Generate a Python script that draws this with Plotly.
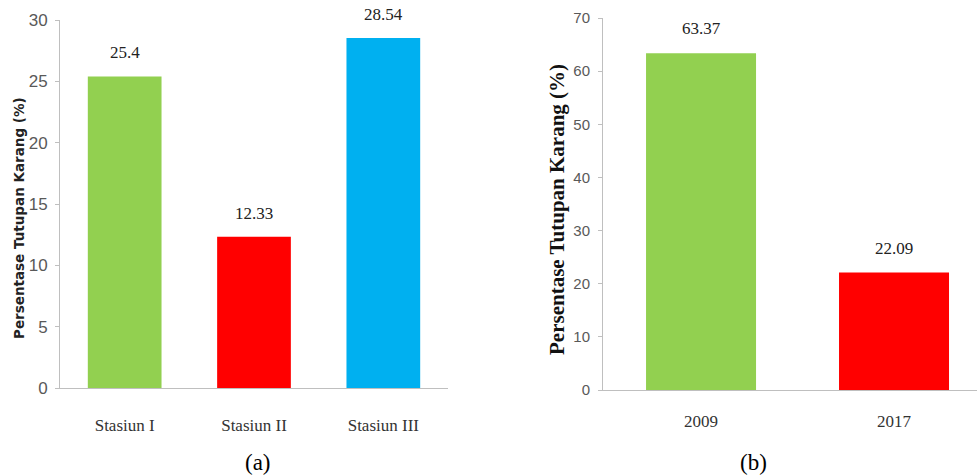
import plotly.graph_objects as go

# Data
stations = ["Stasiun I", "Stasiun II", "Stasiun III"]
cover_a = [25.4, 12.33, 28.54]
label_a = ["25.4", "12.33", "28.54"]
colors_a = ["#92d050", "#ff0000", "#00b0f0"]

years = ["2009", "2017"]
cover_b = [63.37, 22.09]
label_b = ["63.37", "22.09"]
colors_b = ["#92d050", "#ff0000"]

ytitle = "Persentase Tutupan Karang (%)"

W, H = 977, 476
fig = go.Figure()

fig.add_trace(go.Bar(x=stations, y=cover_a, marker=dict(color=colors_a, line=dict(width=0)),
                     width=0.57, xaxis="x", yaxis="y", showlegend=False))
fig.add_trace(go.Bar(x=years, y=cover_b, marker=dict(color=colors_b, line=dict(width=0)),
                     width=0.57, xaxis="x2", yaxis="y2", showlegend=False))

serif = "Liberation Serif"
tickfont = dict(family="Liberation Sans Narrow, Arial Narrow, sans-serif", size=17, color="#595959")
tickfont2 = dict(family="Liberation Sans Narrow, Arial Narrow, sans-serif", size=15, color="#595959")
axcol = "#bfbfbf"

ann = []
for i, (v, t) in enumerate(zip(cover_a, label_a)):
    ann.append(dict(x=i, y=v, xref="x", yref="y", text=t, showarrow=False, yanchor="bottom",
                    yshift=12, font=dict(family=serif, size=17, color="#222")))
for i, (v, t) in enumerate(zip(cover_b, label_b)):
    ann.append(dict(x=i, y=v, xref="x2", yref="y2", text=t, showarrow=False, yanchor="bottom",
                    yshift=13, font=dict(family=serif, size=17, color="#222")))

ann.append(dict(x=19 / W, y=1 - 218 / H, xref="paper", yref="paper", text=ytitle, textangle=-90,
                showarrow=False, xanchor="center", yanchor="middle",
                font=dict(family="DejaVu Sans", size=13.5, color="#222", weight="bold")))
ann.append(dict(x=557 / W, y=1 - 210 / H, xref="paper", yref="paper", text="<b>" + ytitle + "</b>",
                textangle=-90, showarrow=False, xanchor="center", yanchor="middle",
                font=dict(family=serif, size=21, color="#111")))
ann.append(dict(x=258 / W, y=1 - 462 / H, xref="paper", yref="paper", text="(a)", showarrow=False,
                xanchor="center", yanchor="middle", font=dict(family=serif, size=23, color="#000")))
ann.append(dict(x=753 / W, y=1 - 462 / H, xref="paper", yref="paper", text="(b)", showarrow=False,
                xanchor="center", yanchor="middle", font=dict(family=serif, size=23, color="#000")))

fig.update_layout(
    width=W, height=H, margin=dict(l=0, r=0, t=0, b=0, autoexpand=False),
    paper_bgcolor="white", plot_bgcolor="white",
    annotations=ann,
    xaxis=dict(type="category", domain=[60 / W, 448 / W], range=[-0.5, 2.5], showline=True,
               linecolor=axcol, linewidth=1, ticks="", showgrid=False, anchor="y", automargin=False,
               tickfont=dict(family=serif, size=17, color="#333"), ticklabelstandoff=22),
    yaxis=dict(domain=[1 - 388 / H, 1 - 20 / H], range=[0, 30], dtick=5, showline=True,
               linecolor=axcol, linewidth=1, ticks="outside", ticklen=4, tickcolor=axcol,
               showgrid=False, zeroline=False, tickfont=tickfont, anchor="x", automargin=False,
               ticklabelstandoff=4),
    xaxis2=dict(type="category", domain=[603 / W, 1.0], range=[-0.508, 1.43], showline=True,
                linecolor=axcol, linewidth=1, ticks="", showgrid=False, anchor="y2", automargin=False,
                tickfont=dict(family=serif, size=17, color="#333"), ticklabelstandoff=16),
    yaxis2=dict(domain=[1 - 390 / H, 1 - 18 / H], range=[0, 70], dtick=10, showline=True,
                linecolor=axcol, linewidth=1, ticks="outside", ticklen=4, tickcolor=axcol,
                showgrid=False, zeroline=False, tickfont=tickfont2, anchor="x2", automargin=False,
                ticklabelstandoff=5),
)

fig.write_html("out.html")
